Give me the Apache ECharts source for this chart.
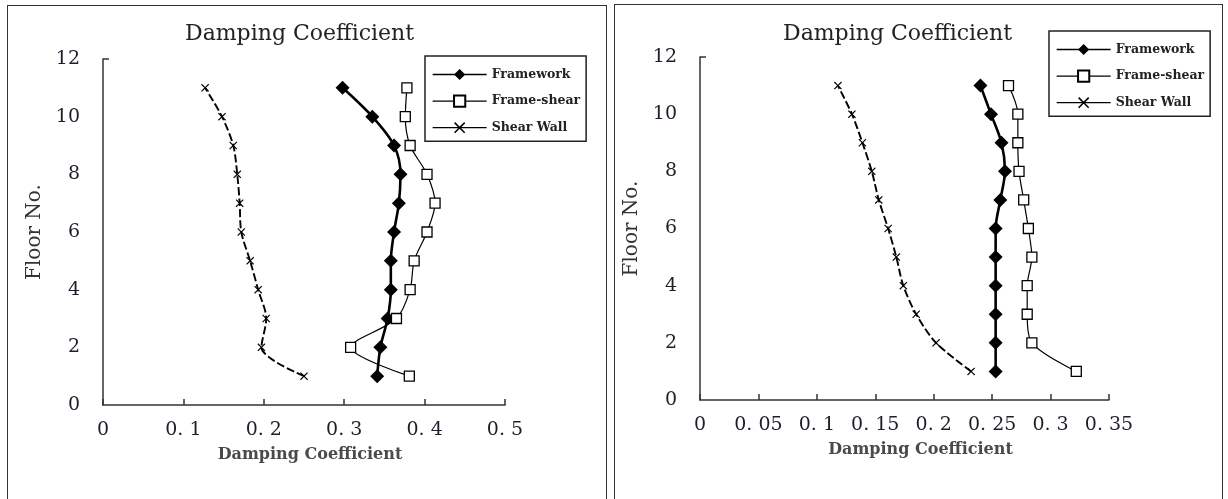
<!DOCTYPE html>
<html>
<head>
<meta charset="utf-8">
<script src="https://cdn.jsdelivr.net/npm/echarts@6/dist/echarts.min.js"></script>
<style>
  body { margin: 0; background: #fff; width: 1228px; height: 499px; overflow: hidden; position: relative; }
  .frame { position: absolute; border: 1.5px solid #333; box-sizing: border-box; pointer-events: none; }
  .chart { position: absolute; top: 0; height: 499px; }
</style>
</head>
<body>
<div class="frame" style="left:7px; top:5px; width:600px; height:560px;"></div>
<div class="frame" style="left:614px; top:4px; width:609px; height:560px;"></div>
<div id="chart-left" class="chart" style="left:0; width:610px;"></div>
<div id="chart-right" class="chart" style="left:610px; width:618px;"></div>
<script>
// floors 1..11
var floors = [1, 2, 3, 4, 5, 6, 7, 8, 9, 10, 11];

// left panel
var leftFramework   = [0.341, 0.345, 0.354, 0.358, 0.358, 0.362, 0.368, 0.370, 0.362, 0.335, 0.298];
var leftFrameShear  = [0.381, 0.308, 0.365, 0.382, 0.387, 0.403, 0.413, 0.403, 0.382, 0.376, 0.378];
var leftShearWall   = [0.250, 0.197, 0.203, 0.193, 0.183, 0.172, 0.170, 0.167, 0.162, 0.148, 0.127];

// right panel
var rightFramework  = [0.253, 0.253, 0.253, 0.253, 0.253, 0.253, 0.257, 0.261, 0.258, 0.249, 0.240];
var rightFrameShear = [0.322, 0.284, 0.280, 0.280, 0.284, 0.281, 0.277, 0.273, 0.272, 0.272, 0.264];
var rightShearWall  = [0.232, 0.202, 0.185, 0.174, 0.168, 0.161, 0.153, 0.147, 0.139, 0.130, 0.118];

var seriesNames = ['Framework', 'Frame-shear', 'Shear Wall'];

var SERIF = '"DejaVu Serif", "Liberation Serif", serif';
var crossPath = 'path://M0,1 L1,0 L5,4 L9,0 L10,1 L6,5 L10,9 L9,10 L5,6 L1,10 L0,9 L4,5 Z';

function pairs(xs) {
  return xs.map(function (x, i) { return [x, floors[i]]; });
}

function tickText(v) {
  var s = String(+(+v).toFixed(2));
  return s.replace('.', '. ');
}

function buildOption(cfg) {
  var axisLineStyle = { color: '#333', width: 1.5 };
  return {
    animation: false,
    title: {
      text: 'Damping Coefficient',
      left: cfg.titleLeft,
      top: 23,
      padding: 0,
      textStyle: { fontFamily: SERIF, fontSize: 22, fontWeight: 'normal', color: '#222' }
    },
    legend: {
      orient: 'vertical',
      left: cfg.legend.left,
      top: cfg.legend.top,
      width: cfg.legend.width,
      padding: [12, 6, 7, 7],
      itemGap: 13.5,
      itemWidth: 54,
      itemHeight: 14,
      borderColor: '#222',
      borderWidth: 1.5,
      lineStyle: { type: 'solid', width: 1.3 },
      data: seriesNames,
      textStyle: { fontFamily: SERIF, fontSize: 12.5, fontWeight: 'bold', color: '#222' }
    },
    grid: cfg.grid,
    xAxis: {
      type: 'value',
      min: 0,
      max: cfg.xMax,
      interval: cfg.xStep,
      name: 'Damping Coefficient',
      nameLocation: 'middle',
      nameGap: 42,
      nameTextStyle: {
        fontFamily: SERIF, fontSize: 16, fontWeight: 'bold', color: '#4a4a4a',
        padding: [0, 0, 0, cfg.xNamePad]
      },
      axisLine: { show: true, lineStyle: axisLineStyle },
      axisTick: { show: true, inside: true, length: 6, lineStyle: axisLineStyle },
      axisLabel: {
        margin: 16, fontFamily: SERIF, fontSize: 19, color: '#1e1e2a',
        showMaxLabel: true, showMinLabel: true,
        formatter: tickText
      },
      splitLine: { show: false }
    },
    yAxis: {
      type: 'value',
      min: 0,
      max: 12,
      interval: 2,
      name: 'Floor No.',
      nameLocation: 'middle',
      nameGap: cfg.yNameGap,
      nameTextStyle: { fontFamily: SERIF, fontSize: 20, color: '#333' },
      axisLine: { show: true, lineStyle: axisLineStyle },
      axisTick: { show: true, inside: true, length: 6, lineStyle: axisLineStyle, customValues: [12] },
      axisLabel: { margin: 23, fontFamily: SERIF, fontSize: 19, color: '#1e1e2a' },
      splitLine: { show: false }
    },
    series: [
      {
        name: seriesNames[0],
        type: 'line',
        smooth: 0.3,
        data: pairs(cfg.framework),
        symbol: 'diamond',
        symbolSize: 14,
        itemStyle: { color: '#000' },
        lineStyle: { color: '#000', width: 2.6 }
      },
      {
        name: seriesNames[1],
        type: 'line',
        smooth: 0.3,
        data: pairs(cfg.frameShear),
        symbol: 'rect',
        symbolSize: 10,
        itemStyle: { color: '#fff', borderColor: '#000', borderWidth: 1.3 },
        lineStyle: { color: '#000', width: 1.2 }
      },
      {
        name: seriesNames[2],
        type: 'line',
        smooth: 0.3,
        data: pairs(cfg.shearWall),
        symbol: crossPath,
        symbolSize: 8,
        itemStyle: { color: '#000' },
        lineStyle: { color: '#000', width: 1.9, type: [8, 3] }
      }
    ]
  };
}

// left chart
var dom = document.getElementById('chart-left');
var myChart = echarts.init(dom);
var option = buildOption({
  titleLeft: 185,
  legend: { left: 425, top: 56, width: 161 },
  grid: { left: 103, top: 59, width: 402, height: 346 },
  xMax: 0.5,
  xStep: 0.1,
  xNamePad: 12,
  yNameGap: 52,
  framework: leftFramework,
  frameShear: leftFrameShear,
  shearWall: leftShearWall
});
if (option && typeof option === 'object') {
  myChart.setOption(option);
}

// right chart
var dom2 = document.getElementById('chart-right');
var myChart2 = echarts.init(dom2);
var option2 = buildOption({
  titleLeft: 173,
  legend: { left: 439, top: 31, width: 162 },
  grid: { left: 90, top: 57, width: 409, height: 343 },
  xMax: 0.35,
  xStep: 0.05,
  xNamePad: 32,
  yNameGap: 51,
  framework: rightFramework,
  frameShear: rightFrameShear,
  shearWall: rightShearWall
});
if (option2 && typeof option2 === 'object') {
  myChart2.setOption(option2);
}
</script>
</body>
</html>
